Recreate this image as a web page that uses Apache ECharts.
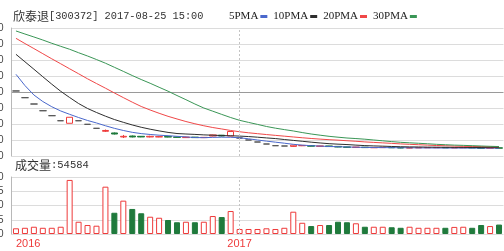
<!DOCTYPE html>
<html><head><meta charset="utf-8">
<script src="https://cdn.jsdelivr.net/npm/echarts@6/dist/echarts.min.js"></script>
<style>html,body{margin:0;padding:0;background:#fff}#c{width:504px;height:251px}</style>
</head><body><div id="c"></div>
<script>
// year tick labels: [category index, label]
const yearMarks = [[0, '2016'], [25, '2017']];
// candles: [open, close, low, high]
const candles = [
  [10.13,10.13,10.13,10.13],[9.29,9.29,9.29,9.29],[8.5,8.5,8.5,8.5],[7.66,7.66,7.66,7.66],[7.04,7.04,7.04,7.04],
  [6.41,6.41,6.41,6.41],[6.09,6.84,6.09,6.84],[6.41,6.41,6.41,6.41],[5.96,5.96,5.96,5.96],[5.46,5.46,5.46,5.46],
  [5.09,5.19,5.0,5.31],[4.88,4.75,4.69,4.94],[4.38,4.46,4.25,4.63],[4.5,4.38,4.33,4.56],[4.46,4.38,4.35,4.5],
  [4.38,4.46,4.33,4.53],[4.38,4.42,4.35,4.46],[4.44,4.36,4.33,4.46],[4.38,4.33,4.3,4.4],[4.3,4.36,4.28,4.4],
  [4.36,4.3,4.27,4.38],[4.3,4.33,4.27,4.36],[4.5,4.63,4.46,4.66],[4.6,4.5,4.46,4.63],[4.5,5.06,4.48,5.1],
  [4.25,4.25,4.25,4.25],[4.0,4.0,4.0,4.0],[3.75,3.75,3.75,3.75],[3.5,3.5,3.5,3.5],[3.29,3.29,3.29,3.29],
  [3.25,3.25,3.25,3.25],[3.2,3.35,3.15,3.4],[3.28,3.32,3.24,3.36],[3.3,3.22,3.2,3.33],[3.2,3.26,3.18,3.28],
  [3.26,3.18,3.16,3.27],[3.2,3.12,3.1,3.21],[3.14,3.08,3.06,3.15],[3.06,3.12,3.02,3.14],[3.1,3.05,3.03,3.11],
  [3.03,3.07,3.01,3.08],[3.05,3.09,3.03,3.1],[3.08,3.03,3.01,3.09],[3.05,3.0,2.98,3.06],[2.99,3.04,2.97,3.05],
  [3.02,3.05,3.0,3.06],[3.03,3.06,3.01,3.07],[3.04,3.07,3.02,3.08],[3.07,3.02,3.0,3.08],[3.01,3.05,2.99,3.06],
  [3.03,3.07,3.01,3.08],[3.06,3.01,2.99,3.07],[3.02,2.97,2.95,3.03],[2.97,3.01,2.95,3.02],[3.02,2.98,2.96,3.03]
];
const volumes = [33000,36000,42000,36000,36000,42000,313000,71000,52000,48000,
  274000,123000,193000,145000,120000,100000,94000,81000,68000,71000,
  68000,71000,104000,98000,133000,29000,29000,29000,33000,29000,
  36000,129000,65000,46000,52000,52000,71000,68000,62000,42000,
  42000,42000,39000,36000,42000,36000,36000,36000,36000,41000,
  42000,36000,52000,46000,54584];
const ma5 = [12.21,10.81,9.63,8.81,8.16,7.63,7.21,6.81,6.44,6.13,5.78,5.46,5.19,4.96,4.8,4.69,4.6,4.54,4.46,4.39,
  4.31,4.29,4.33,4.35,4.34,4.28,4.15,4.0,3.86,3.73,3.6,3.46,3.36,3.29,3.24,3.19,3.16,3.13,3.1,3.08,
  3.06,3.05,3.04,3.03,3.03,3.01,3.01,3.0,3.0,3.0,2.99,2.99,2.99,2.99,2.98];
const ma10 = [14.71,13.78,12.85,11.91,10.98,10.09,9.31,8.56,7.94,7.44,6.98,6.56,6.21,5.88,5.59,5.35,5.14,4.95,4.81,4.75,
  4.7,4.64,4.6,4.56,4.53,4.49,4.43,4.35,4.26,4.18,4.06,3.95,3.84,3.73,3.63,3.54,3.48,3.43,3.36,3.3,
  3.26,3.23,3.19,3.16,3.14,3.13,3.11,3.1,3.09,3.08,3.08,3.06,3.06,3.06,3.06];
const ma20 = [16.71,16.06,15.43,14.79,14.15,13.53,12.9,12.28,11.65,11.06,10.48,9.88,9.3,8.73,8.19,7.75,7.34,6.96,6.63,6.31,
  6.03,5.78,5.56,5.38,5.19,5.03,4.9,4.79,4.68,4.58,4.48,4.38,4.28,4.19,4.11,4.04,3.98,3.91,3.84,3.76,
  3.7,3.64,3.58,3.51,3.46,3.41,3.36,3.31,3.28,3.24,3.21,3.19,3.18,3.16,3.15];
const ma30 = [17.63,17.25,16.88,16.5,16.09,15.71,15.34,14.91,14.5,14.06,13.6,13.09,12.58,12.06,11.56,11.09,10.59,10.1,9.56,9.04,
  8.5,8.0,7.6,7.2,6.81,6.46,6.2,5.95,5.69,5.48,5.3,5.13,4.93,4.75,4.6,4.46,4.35,4.25,4.18,4.1,
  4.0,3.9,3.8,3.71,3.65,3.59,3.53,3.46,3.41,3.36,3.33,3.29,3.25,3.21,3.18];
const priceTicks = {min: 2, max: 18, interval: 2};
const volTicks = {min: 0, max: 330000, interval: 82500};

const RED = '#ee3a3a', GREEN = '#1f7a3c', DOJI = '#555555';
const categories = candles.map((_, i) => 'd' + i);
const yearOf = {};
yearMarks.forEach(([i, y]) => { yearOf[i] = y; });

const candleData = candles.map(c => c[0] === c[1]
  ? {value: c, itemStyle: {borderColor: DOJI, borderColor0: DOJI}}
  : {value: c});
const volData = volumes.map((v, i) => {
  const up = candles[i][1] >= candles[i][0];
  return {value: v, itemStyle: {color: up ? '#ffffff' : GREEN, borderColor: up ? RED : GREEN, borderWidth: 1}};
});

const chart = echarts.init(document.getElementById('c'), null, {renderer: 'canvas'});
const gridCommon = {left: 11.5, right: 0.5, containLabel: false, outerBoundsMode: 'none'};
const splitColors = ['#dcdcdc','#dcdcdc','#dcdcdc','#dcdcdc','#9a9a9a','#dcdcdc','#dcdcdc','#dcdcdc','#dcdcdc'];
const vline = (name) => ({silent: true, symbol: 'none', animation: false,
  label: {show: false}, lineStyle: {color: '#c4c4c4', type: [2, 2], width: 1},
  data: [{xAxis: name}]});
const maSeries = (name, data, color) => ({
  name, type: 'line', data, xAxisIndex: 0, yAxisIndex: 0, showSymbol: false, symbol: 'none',
  lineStyle: {color, width: 1}, itemStyle: {color}, z: 3
});

chart.setOption({
  animation: false,
  backgroundColor: '#ffffff',
  textStyle: {fontFamily: 'Liberation Sans'},
  legend: {
    left: 229, top: 11, padding: 0, align: 'right', itemWidth: 7, itemHeight: 3, itemGap: 6,
    icon: 'rect', selectedMode: false,
    textStyle: {fontFamily: 'Liberation Serif', fontSize: 11, color: '#222', padding: [0, -3, 0, 0]},
    data: ['5PMA', '10PMA', '20PMA', '30PMA']
  },
  graphic: [
    {type: 'text', left: 13, top: 10, style: {text: '欣泰退', font: "12px 'Noto Sans CJK SC'", fill: '#333'}},
    {type: 'text', left: 49, top: 11, style: {text: '[300372] 2017-08-25 15:00', font: "10.3px 'Liberation Mono'", fill: '#333'}},
    {type: 'text', left: 15, top: 159, style: {text: '成交量', font: "12px 'Noto Sans CJK SC'", fill: '#333'}},
    {type: 'text', left: 51, top: 160, style: {text: ':' + volumes[volumes.length - 1], font: "10.5px 'Liberation Mono'", fill: '#333'}}
  ],
  grid: [
    Object.assign({top: 28, height: 128}, gridCommon),
    Object.assign({top: 177, height: 57}, gridCommon)
  ],
  xAxis: [
    {type: 'category', gridIndex: 0, data: categories, boundaryGap: true,
     axisLine: {show: false}, axisTick: {show: false}, axisLabel: {show: false}, splitLine: {show: false}},
    {type: 'category', gridIndex: 1, data: categories, boundaryGap: true,
     axisLine: {show: false}, axisTick: {show: false}, splitLine: {show: false},
     axisLabel: {show: true, color: RED, fontSize: 11, margin: 4, alignMinLabel: 'left',
       interval: (i) => yearOf[i] !== undefined,
       formatter: (v, i) => yearOf[i] || ''}}
  ],
  yAxis: [
    {type: 'value', gridIndex: 0, min: priceTicks.min, max: priceTicks.max, interval: priceTicks.interval,
     axisLine: {show: true, lineStyle: {color: '#b8b8b8'}}, axisTick: {show: false},
     axisLabel: {show: true, margin: 8, fontSize: 10, color: '#444', formatter: v => v.toFixed(2)},
     splitLine: {show: true, lineStyle: {color: splitColors, width: 1}}},
    {type: 'value', gridIndex: 1, min: volTicks.min, max: volTicks.max, interval: volTicks.interval,
     axisLine: {show: true, lineStyle: {color: '#b8b8b8'}}, axisTick: {show: false},
     axisLabel: {show: true, margin: 8, fontSize: 10, color: '#444', formatter: v => Math.round(v / 100)},
     splitLine: {show: true, lineStyle: {color: '#dcdcdc', width: 1}}}
  ],
  series: [
    {type: 'candlestick', name: 'K', xAxisIndex: 0, yAxisIndex: 0, data: candleData, barWidth: 7, z: 2,
     itemStyle: {color: '#ffffff', color0: GREEN, borderColor: RED, borderColor0: GREEN, borderWidth: 1},
     markLine: vline(categories[25])},
    maSeries('5PMA', ma5, '#4a68cc'),
    maSeries('10PMA', ma10, '#2e2e2e'),
    maSeries('20PMA', ma20, '#f04848'),
    maSeries('30PMA', ma30, '#3a9656'),
    {type: 'bar', name: 'VOL', xAxisIndex: 1, yAxisIndex: 1, data: volData, barWidth: 6,
     markLine: vline(categories[25])}
  ]
});
</script>
</body></html>
